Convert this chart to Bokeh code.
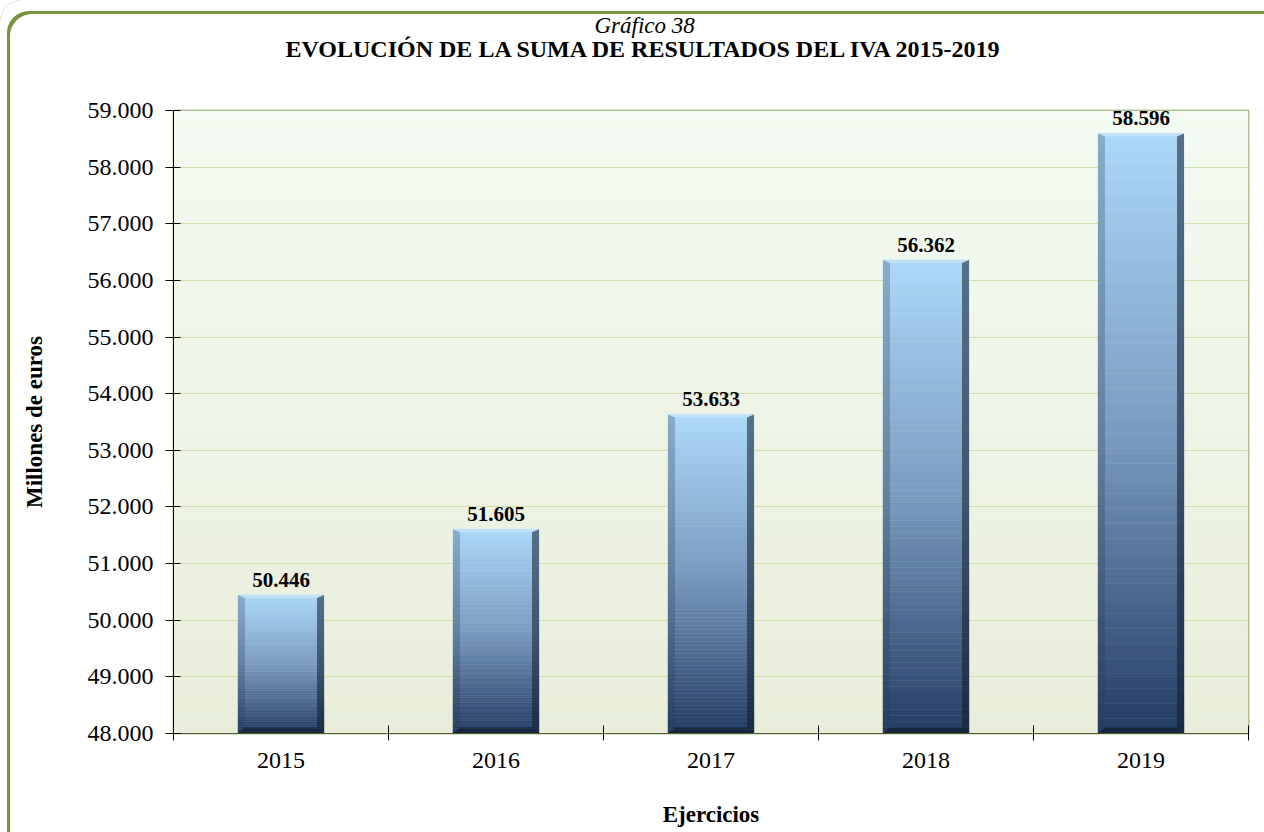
from bokeh.plotting import figure
from bokeh.models import (Range1d, FixedTicker, CustomJSTickFormatter, Title,
                          LabelSet, ColumnDataSource)
from bokeh.embed import file_html
from bokeh.resources import INLINE
from bokeh.core.properties import value

# ---------------- data ----------------
years = ["2015", "2016", "2017", "2018", "2019"]
totals = [50446, 51605, 53633, 56362, 58596]
total_labels = ["50.446", "51.605", "53.633", "56.362", "58.596"]
y_ticks = [48000, 49000, 50000, 51000, 52000, 53000, 54000, 55000, 56000, 57000, 58000, 59000]
y_min, y_max = 48000, 59000
title_line1 = "Gráfico 38"
title_line2 = "EVOLUCIÓN DE LA SUMA DE RESULTADOS DEL IVA 2015-2019"
x_title = "Ejercicios"
y_title = "Millones de euros"

# ---------------- layout ----------------
W, H = 1264, 832
ML, MR, MT, MB = 173, 16, 110, 99
FW, FH = W - ML - MR, H - MT - MB
FONT = "Liberation Serif"
n = len(years)

p = figure(width=W, height=H, output_backend="svg", toolbar_location=None,
           x_range=Range1d(0, n), y_range=Range1d(y_min, y_max),
           min_border_left=ML, min_border_right=MR, min_border_top=MT,
           min_border_bottom=MB)
p.background_fill_color = "#F0F6E8"
p.border_fill_alpha = 0
p.outline_line_color = "#77933C"
p.outline_line_width = 1.5
# rounded green frame around the whole chart (top and left visible)
p.styles = {"background-color": "white",
            "border-radius": "22px 0 0 0",
            "box-shadow": "inset 7px 11px 0 0 white, inset 10px 14px 0 0 #77933C"}

px_x = n / FW
px_y = (y_max - y_min) / FH


def lerp(c0, c1, t):
    return tuple(int(round(a + (b - a) * t)) for a, b in zip(c0, c1))


def hexc(c):
    return "#%02x%02x%02x" % c


# plot-area gradient background
bg_top, bg_bot = (243, 251, 242), (233, 237, 218)
NB = 60
bg = dict(l=[], r=[], b=[], t=[], c=[])
for j in range(NB):
    bg["l"].append(0); bg["r"].append(n)
    bg["b"].append(y_min + (y_max - y_min) * j / NB)
    bg["t"].append(y_min + (y_max - y_min) * (j + 1) / NB)
    bg["c"].append(hexc(lerp(bg_bot, bg_top, (j + 0.5) / NB)))
r_bg = p.quad(left="l", right="r", bottom="b", top="t", fill_color="c",
              line_color="c", line_width=0.5, source=ColumnDataSource(bg))
r_bg.level = "image"

# bars with vertical gradient
stops = [(0.0, (36, 60, 100)), (0.5, (122, 155, 192)), (1.0, (172, 216, 250))]


def grad(t):
    for (t0, c0), (t1, c1) in zip(stops[:-1], stops[1:]):
        if t <= t1:
            return lerp(c0, c1, (t - t0) / (t1 - t0))
    return stops[-1][1]


half = 0.2
NS = 80
bars = dict(l=[], r=[], b=[], t=[], c=[])
for i, v in enumerate(totals):
    xc = i + 0.5
    for j in range(NS):
        bars["l"].append(xc - half); bars["r"].append(xc + half)
        bars["b"].append(y_min + (v - y_min) * j / NS)
        bars["t"].append(y_min + (v - y_min) * (j + 1) / NS)
        bars["c"].append(hexc(grad((j + 0.5) / NS)))
p.quad(left="l", right="r", bottom="b", top="t", fill_color="c",
       line_color="c", line_width=0.5, source=ColumnDataSource(bars))

# bevel edges
sx, sb, st = 7 * px_x, 6 * px_y, 3 * px_y
lx, ly, rx, ry, bx, by, tx, ty = [], [], [], [], [], [], [], []
for i, v in enumerate(totals):
    xl, xr = i + 0.5 - half, i + 0.5 + half
    yb, yt = y_min, v
    lx.append([xl, xl + sx, xl + sx, xl]); ly.append([yb, yb + sb, yt - st, yt])
    rx.append([xr, xr - sx, xr - sx, xr]); ry.append([yb, yb + sb, yt - st, yt])
    bx.append([xl, xr, xr - sx, xl + sx]); by.append([yb, yb, yb + sb, yb + sb])
    tx.append([xl, xr, xr - sx, xl + sx]); ty.append([yt, yt, yt - st, yt - st])
p.patches(lx, ly, fill_color="#2a3a50", fill_alpha=0.28, line_color=None)
p.patches(rx, ry, fill_color="#101c2c", fill_alpha=0.55, line_color=None)
p.patches(bx, by, fill_color="#0c1420", fill_alpha=0.55, line_color=None)
p.patches(tx, ty, fill_color="white", fill_alpha=0.25, line_color=None)

# value labels
lab_src = ColumnDataSource(dict(x=[i + 0.5 for i in range(n)], y=totals, t=total_labels))
p.add_layout(LabelSet(x="x", y="y", text="t", source=lab_src, text_align="center",
                      text_baseline="alphabetic", y_offset=8,
                      text_font=value(FONT), text_font_size="21px",
                      text_font_style="bold", text_color="black"))

# grids
p.xgrid.grid_line_color = None
p.ygrid.ticker = FixedTicker(ticks=y_ticks)
p.ygrid.grid_line_color = "#CFE0A8"
p.ygrid.grid_line_width = 1

# y axis
ya = p.yaxis[0]
ya.ticker = FixedTicker(ticks=y_ticks)
ya.formatter = CustomJSTickFormatter(code="""
return Math.round(tick).toString().replace(/\\B(?=(\\d{3})+(?!\\d))/g, '.');
""")
ya.axis_line_color = "black"
ya.major_tick_line_color = "black"
ya.major_tick_in = 7
ya.major_tick_out = 8
ya.minor_tick_line_color = None
ya.major_label_text_font = FONT
ya.major_label_text_font_size = "24px"
ya.major_label_text_color = "black"
ya.major_label_standoff = 12
ya.axis_label = y_title
ya.axis_label_text_font = FONT
ya.axis_label_text_font_size = "23px"
ya.axis_label_text_font_style = "bold"
ya.axis_label_text_color = "black"
ya.axis_label_standoff = 38

# x axis
xa = p.xaxis[0]
xa.ticker = FixedTicker(ticks=[i + 0.5 for i in range(n)],
                        minor_ticks=[float(i) for i in range(n + 1)])
xa.major_label_overrides = {i + 0.5: y for i, y in enumerate(years)}
xa.axis_line_color = "#4F5A30"
xa.major_tick_line_color = None
xa.minor_tick_line_color = "black"
xa.minor_tick_in = 8
xa.minor_tick_out = 7
xa.major_label_text_font = FONT
xa.major_label_text_font_size = "24px"
xa.major_label_text_color = "black"
xa.major_label_standoff = 12
xa.axis_label = x_title
xa.axis_label_text_font = FONT
xa.axis_label_text_font_size = "23px"
xa.axis_label_text_font_style = "bold"
xa.axis_label_text_color = "black"
xa.axis_label_standoff = 31

# titles: a blank spacer next to the frame, then the bold line, then the italic line
p.add_layout(Title(text=" ", text_font_size="2px", standoff=49), "above")
p.add_layout(Title(text=title_line2, align="left", offset=112,
                   text_font=FONT, text_font_size="24px", text_font_style="bold",
                   text_color="black", standoff=-8), "above")
p.add_layout(Title(text=title_line1, align="left", offset=421,
                   text_font=FONT, text_font_size="23px", text_font_style="italic",
                   text_color="black", standoff=0), "above")

open("out.html", "w").write(file_html(p, INLINE))
